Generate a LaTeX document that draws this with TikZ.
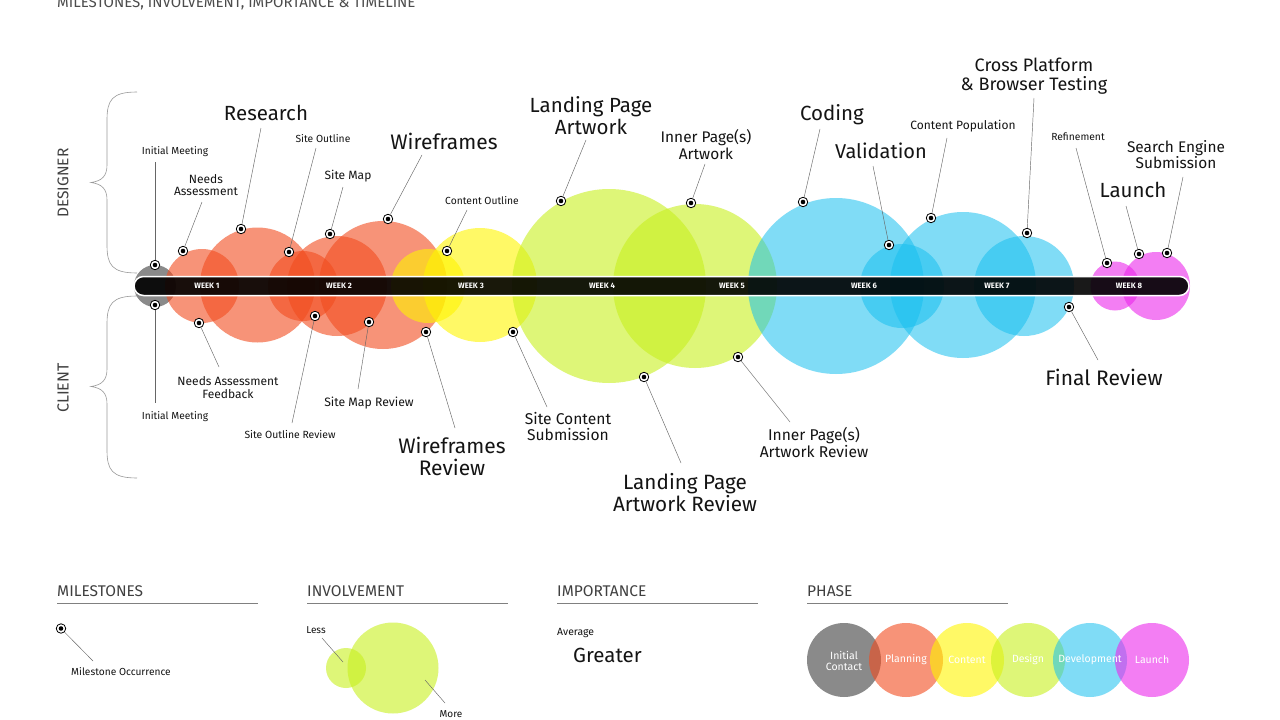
\documentclass[tikz,border=0pt]{standalone}
\usepackage{fontspec}
\setmainfont{Fira Sans}
\newcommand\fsz[1]{\fontsize{#1}{\dimexpr#1pt*105/100\relax}\selectfont}
\definecolor{corng}{RGB}{242,76,30}
\definecolor{cyell}{RGB}{255,245,0}
\definecolor{cgrn}{RGB}{200,240,30}
\definecolor{cblu}{RGB}{25,192,240}
\definecolor{cmag}{RGB}{235,40,235}
\definecolor{cgry}{RGB}{60,60,60}
\definecolor{txt}{RGB}{20,20,20}
\begin{document}
\begin{tikzpicture}[x=1pt,y=-1pt,
  lbl/.style={text=txt, inner sep=0pt, align=center},
  ln/.style={draw=black!60, line width=0.45pt},
  mstone/.style={circle, draw=black, line width=0.8pt, fill=white, minimum size=9.5pt, inner sep=0pt,
     path picture={\fill[black] (path picture bounding box.center) circle[radius=2.3pt];}},
  bub/.style={fill opacity=0.6},
  wk/.style={text=white, font=\bfseries\fsz{7.8}, inner sep=0pt},
  head/.style={text=black!75, font=\fsz{15.5}, anchor=base west, inner sep=0pt},
  rule/.style={draw=black!50, line width=0.7pt},
  brc/.style={draw=black!40, line width=0.6pt},
  phs/.style={text=white, font=\fsz{10.5}, inner sep=0pt, align=center}
]
\fill[white] (0,0) rectangle (1280,720);
\useasboundingbox (0,0) rectangle (1280,720);

% title
\node[text=black!70, font=\fsz{15}, anchor=base west, inner sep=0pt] (title) at (57,8) {MILESTONES, INVOLVEMENT, IMPORTANCE \& TIMELINE};

% braces
\draw[brc] (137,92) .. controls (112,92) and (107,100) .. (107,120) -- (107,165)
  .. controls (107,176) and (102,181) .. (91,182.5) .. controls (102,184) and (107,189) .. (107,200)
  -- (107,245) .. controls (107,265) and (112,273) .. (137,273);
\draw[brc] (137,296) .. controls (112,296) and (107,304) .. (107,324) -- (107,369)
  .. controls (107,380) and (102,385) .. (91,386.5) .. controls (102,388) and (107,393) .. (107,404)
  -- (107,450) .. controls (107,470) and (112,478) .. (137,478);
\node[rotate=90, font=\fsz{15.5}, text=black!75] (des) at (63,183) {DESIGNER};
\node[rotate=90, font=\fsz{16}, text=black!75] (cli) at (63,388) {CLIENT};

% bubbles
\fill[bub, cgry] (155,286) circle[radius=21];
\fill[bub, corng] (202,286) circle[radius=37];
\fill[bub, corng] (257.5,285) circle[radius=57.5];
\fill[bub, corng] (303,286) circle[radius=35];
\fill[bub, corng] (337,286) circle[radius=50];
\fill[bub, corng] (383,285) circle[radius=64];
\fill[bub, cyell] (428,286) circle[radius=37];
\fill[bub, cyell] (480,285) circle[radius=57];
\fill[bub, cgrn] (609,286) circle[radius=97];
\fill[bub, cgrn] (695,286) circle[radius=82];
\fill[bub, cblu, fill opacity=0.55] (836,286) circle[radius=88];
\fill[bub, cblu, fill opacity=0.55] (902,286) circle[radius=42];
\fill[bub, cblu, fill opacity=0.55] (963,285) circle[radius=73];
\fill[bub, cblu, fill opacity=0.55] (1024,286) circle[radius=50];
\fill[bub, cmag] (1115,286) circle[radius=24.5];
\fill[bub, cmag] (1156,286) circle[radius=34];

% bar
\fill[black, fill opacity=0.9, rounded corners=9.5pt] (134,276.5) rectangle (1189,295.5);
\draw[white, line width=1.5pt, rounded corners=9.5pt] (134,276.5) rectangle (1189,295.5);
\node[wk] (w1) at (207,286) {WEEK 1};
\node[wk] (w2) at (339,286) {WEEK 2};
\node[wk] (w3) at (471,286) {WEEK 3};
\node[wk] (w4) at (602,286) {WEEK 4};
\node[wk] (w5) at (732,286) {WEEK 5};
\node[wk] (w6) at (864,286) {WEEK 6};
\node[wk] (w7) at (997,286) {WEEK 7};
\node[wk] (w8) at (1129,286) {WEEK 8};

% ---------- designer milestones ----------
\node[mstone] (mIM) at (155,265) {};
\node[mstone] (mNA) at (183,251) {};
\node[mstone] (mRS) at (241,229) {};
\node[mstone] (mSO) at (289,252) {};
\node[mstone] (mSM) at (330,234) {};
\node[mstone] (mWF) at (388,219) {};
\node[mstone] (mCO) at (447,251) {};
\node[mstone] (mLP) at (561,201) {};
\node[mstone] (mIP) at (691,203) {};
\node[mstone] (mCD) at (803,202) {};
\node[mstone] (mVL) at (889,245) {};
\node[mstone] (mCP) at (931,218) {};
\node[mstone] (mCB) at (1027,233) {};
\node[mstone] (mRF) at (1107,263) {};
\node[mstone] (mLA) at (1139,254) {};
\node[mstone] (mSE) at (1167,253) {};

\coordinate (cIM) at (155,162);
\coordinate (cNA) at (202,202);
\coordinate (cRS) at (261,128);
\coordinate (cSO) at (316,148);
\coordinate (cSM) at (343,187);
\coordinate (cWF) at (422,155);
\coordinate (cCO) at (467,210);
\coordinate (cLP) at (586,140);
\coordinate (cIP) at (705,164);
\coordinate (cCD) at (820,129);
\coordinate (cVL) at (873,166);
\coordinate (cCP) at (947,138);
\coordinate (cCB) at (1034,98);
\coordinate (cRF) at (1076,148);
\coordinate (cLA) at (1126,206);
\coordinate (cSE) at (1183,177);
\foreach \n in {IM,NA,RS,SO,SM,WF,CO,LP,IP,CD,VL,CP,CB,RF,LA,SE}{\draw[ln] (c\n) -- (m\n);}

\node[lbl, font=\fsz{10.2}] (tIM) at (175,152) {Initial Meeting};
\node[lbl, font=\fsz{12}] (tNA) at (206,185) {Needs\\Assessment};
\node[lbl, font=\fsz{20.5}] (tRS) at (266,113) {Research};
\node[lbl, font=\fsz{10.3}] (tSO) at (323,139) {Site Outline};
\node[lbl, font=\fsz{12}] (tSM) at (348,176) {Site Map};
\node[lbl, font=\fsz{21}] (tWF) at (444,141) {Wireframes};
\node[lbl, font=\fsz{10.3}] (tCO) at (482,201) {Content Outline};
\node[lbl, font=\fsz{20.5}] (tLP) at (591,115.5) {Landing Page\\Artwork};
\node[lbl, font=\fsz{15.4}] (tIP) at (706,144.5) {Inner Page(s)\\Artwork};
\node[lbl, font=\fsz{20.5}] (tCD) at (832,115) {Coding};
\node[lbl, font=\fsz{20}] (tVL) at (881,151) {Validation};
\node[lbl, font=\fsz{12}] (tCP) at (963,126) {Content Population};
\node[lbl, font=\fsz{18}] (tCB) at (1034,76) {Cross Platform\\\& Browser Testing};
\node[lbl, font=\fsz{10.3}] (tRF) at (1078,137) {Refinement};
\node[lbl, font=\fsz{20.5}] (tLA) at (1133,190) {Launch};
\node[lbl, font=\fsz{15.4}] (tSE) at (1176,154.5) {Search Engine\\Submission};

% ---------- client milestones ----------
\node[mstone] (nIM) at (155,305) {};
\node[mstone] (nNF) at (199,323) {};
\node[mstone] (nSR) at (315,316) {};
\node[mstone] (nMR) at (369,322) {};
\node[mstone] (nWR) at (426,332) {};
\node[mstone] (nSC) at (513,332) {};
\node[mstone] (nLR) at (644,377) {};
\node[mstone] (nIR) at (738,357) {};
\node[mstone] (nFR) at (1069,307) {};

\coordinate (dIM) at (155,403);
\coordinate (dNF) at (219,367);
\coordinate (dSR) at (292,423);
\coordinate (dMR) at (358,389);
\coordinate (dWR) at (455,428);
\coordinate (dSC) at (547,407);
\coordinate (dLR) at (681,463);
\coordinate (dIR) at (790,422);
\coordinate (dFR) at (1098,360);
\foreach \n in {IM,NF,SR,MR,WR,SC,LR,IR,FR}{\draw[ln] (n\n) -- (d\n);}

\node[lbl, font=\fsz{10.2}] (uIM) at (175,417) {Initial Meeting};
\node[lbl, font=\fsz{12}] (uNF) at (228,387.5) {Needs Assessment\\Feedback};
\node[lbl, font=\fsz{10.4}] (uSR) at (290,435) {Site Outline Review};
\node[lbl, font=\fsz{12.2}] (uMR) at (369,403) {Site Map Review};
\node[lbl, font=\fsz{21}] (uWR) at (452,456) {Wireframes\\Review};
\node[lbl, font=\fsz{15.6}] (uSC) at (568,426.5) {Site Content\\Submission};
\node[lbl, font=\fsz{20.7}] (uLR) at (685,492.5) {Landing Page\\Artwork Review};
\node[lbl, font=\fsz{15.6}] (uIR) at (814,442.5) {Inner Page(s)\\Artwork Review};
\node[lbl, font=\fsz{21}] (uFR) at (1104,377) {Final Review};

% ---------- legend ----------
\node[head] (hMS) at (57,596) {MILESTONES};
\node[head] (hIV) at (307,596) {INVOLVEMENT};
\node[head] (hIM) at (557,596) {IMPORTANCE};
\node[head] (hPH) at (807,596) {PHASE};
\draw[rule] (57,603) -- (258,603);
\draw[rule] (307,603) -- (508,603);
\draw[rule] (557,603) -- (758,603);
\draw[rule] (807,603) -- (1008,603);

\node[mstone] (lgM) at (61,628.5) {};
\coordinate (lgMc) at (93,661);
\draw[ln] (lgM) -- (lgMc);
\node[lbl, font=\fsz{10.2}] (lgMt) at (121,672) {Milestone Occurrence};

\fill[bub, cgrn] (346,668) circle[radius=20];
\fill[bub, cgrn] (393,668) circle[radius=45.5];
\node[lbl, font=\fsz{10}] (less) at (316,630) {Less};
\node[lbl, font=\fsz{10}] (more) at (451,714) {More};
\coordinate (lessA) at (322,638);
\coordinate (lessB) at (343,662);
\coordinate (moreA) at (425,680);
\coordinate (moreB) at (445,703);
\draw[ln] (lessA) -- (lessB);
\draw[ln] (moreA) -- (moreB);

\node[lbl, font=\fsz{10.4}, anchor=west] (avg) at (557,633) {Average};
\node[lbl, font=\fsz{20.5}, anchor=west] (grt) at (573,655) {Greater};

\fill[bub, cgry] (844,660) circle[radius=37];
\fill[bub, corng] (906,660) circle[radius=37];
\fill[bub, cyell] (967,660) circle[radius=37];
\fill[bub, cgrn] (1028,660) circle[radius=37];
\fill[bub, cblu, fill opacity=0.55] (1090,660) circle[radius=37];
\fill[bub, cmag] (1152,660) circle[radius=37];
\node[phs] (p1) at (844,660.5) {Initial\\Contact};
\node[phs] (p2) at (906,660) {Planning};
\node[phs] (p3) at (967,660) {Content};
\node[phs] (p4) at (1028,660) {Design};
\node[phs] (p5) at (1090,660) {Development};
\node[phs] (p6) at (1152,660) {Launch};
\end{tikzpicture}
\end{document}
